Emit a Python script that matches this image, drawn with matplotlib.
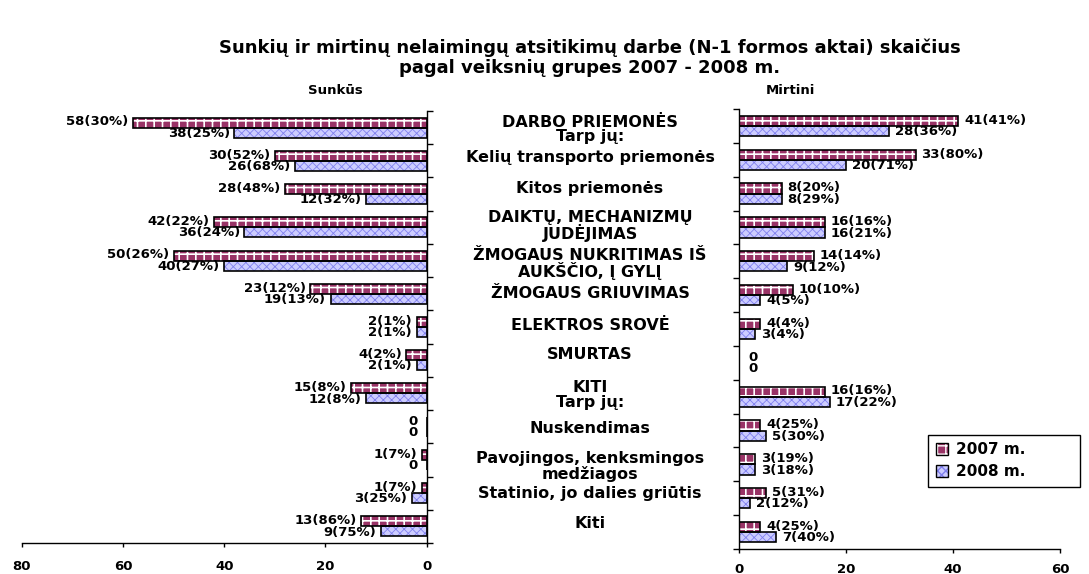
import numpy as np
import matplotlib
matplotlib.use("Agg")
import matplotlib.pyplot as plt
import matplotlib.transforms as mtransforms
from matplotlib.patches import Patch
from matplotlib.legend_handler import HandlerTuple

plt.rcParams['font.family'] = ['DejaVu Sans']
plt.rcParams['font.weight'] = 'bold'

# Data
categories = [
    "DARBO PRIEMONĖS\nTarp jų:",
    "Kelių transporto priemonės",
    "Kitos priemonės",
    "DAIKTŲ, MECHANIZMŲ\nJUDĖJIMAS",
    "ŽMOGAUS NUKRITIMAS IŠ\nAUKŠČIO, Į GYLĮ",
    "ŽMOGAUS GRIUVIMAS",
    "ELEKTROS SROVĖ",
    "SMURTAS",
    "KITI\nTarp jų:",
    "Nuskendimas",
    "Pavojingos, kenksmingos\nmedžiagos",
    "Statinio, jo dalies griūtis",
    "Kiti",
]
sunkus_2007 = [58, 30, 28, 42, 50, 23, 2, 4, 15, 0, 1, 1, 13]
sunkus_2007_pct = [30, 52, 48, 22, 26, 12, 1, 2, 8, None, 7, 7, 86]
sunkus_2008 = [38, 26, 12, 36, 40, 19, 2, 2, 12, 0, 0, 3, 9]
sunkus_2008_pct = [25, 68, 32, 24, 27, 13, 1, 1, 8, None, None, 25, 75]
mirtini_2007 = [41, 33, 8, 16, 14, 10, 4, 0, 16, 4, 3, 5, 4]
mirtini_2007_pct = [41, 80, 20, 16, 14, 10, 4, None, 16, 25, 19, 31, 25]
mirtini_2008 = [28, 20, 8, 16, 9, 4, 3, 0, 17, 5, 3, 2, 7]
mirtini_2008_pct = [36, 71, 29, 21, 12, 5, 4, None, 22, 30, 18, 12, 40]

# small vertical nudges of the middle labels (category units)
label_nudge = [0.05, -0.1, -0.18, -0.05, 0.1, 0, -0.05, -0.18, 0.05, 0.05, 0.2, 0, -0.1]

c07 = '#993366'
c08 = '#ccccff'
hatch08 = '#8080ee'

fig = plt.figure(figsize=(10.89, 5.74), dpi=100)
W, H = 1089, 574
axL = fig.add_axes([21.7 / W, (H - 543) / H, 405 / W, 432 / H])
axR = fig.add_axes([739 / W, (H - 549) / H, 321 / W, 440 / H])

y = np.arange(len(categories))
bh = 0.3


def label(v, p):
    return "0" if p is None else f"{v}({p}%)"


def set_hlw(patches, lw):
    for p in patches:
        if hasattr(p, 'set_hatch_linewidth'):
            p.set_hatch_linewidth(lw)


def draw(ax, v07, p07, v08, p08, side):
    b07 = ax.barh(y - bh / 2, v07, height=bh, facecolor=c07, edgecolor='white',
                  hatch='++', linewidth=0)
    set_hlw(b07, 1.2)
    b08 = ax.barh(y + bh / 2, v08, height=bh, facecolor=c08, edgecolor=hatch08,
                  hatch='xxxx', linewidth=0)
    set_hlw(b08, 0.6)
    for vals, off in [(v07, -bh / 2), (v08, bh / 2)]:
        ax.barh(y + off, vals, height=bh, fill=False, edgecolor='black', linewidth=1.2)
    gap = 0.9 if side == 'left' else 1.1
    ha = 'right' if side == 'left' else 'left'
    for i in range(len(y)):
        for v, p, off in [(v07[i], p07[i], -bh / 2 - 0.02), (v08[i], p08[i], bh / 2 + 0.02)]:
            g = 1.8 if p is None else gap
            ax.text(v + g, i + off, label(v, p), ha=ha, va='center', fontsize=9.5,
                    fontweight='bold')


draw(axL, sunkus_2007, sunkus_2007_pct, sunkus_2008, sunkus_2008_pct, 'left')
draw(axR, mirtini_2007, mirtini_2007_pct, mirtini_2008, mirtini_2008_pct, 'right')

# Left axis (reversed)
axL.set_xlim(80, 0)
axL.set_ylim(len(y) - 0.5, -0.5)
axL.spines['left'].set_visible(False)
axL.spines['top'].set_visible(False)
axL.yaxis.tick_right()
axL.set_yticks(np.arange(-0.5, len(y), 1.0))
axL.set_yticklabels([])
axL.set_xticks([80, 60, 40, 20, 0])

# Right axis
axR.set_xlim(0, 60)
axR.set_ylim(len(y) - 0.5, -0.5)
axR.spines['right'].set_visible(False)
axR.spines['top'].set_visible(False)
axR.set_yticks(np.arange(-0.5, len(y), 1.0))
axR.set_yticklabels([])
axR.set_xticks([0, 20, 40, 60])

for ax, pad in ((axL, 9.5), (axR, 7)):
    ax.tick_params(axis='x', labelsize=9.5, length=3, width=1, pad=pad)
    ax.tick_params(axis='y', length=4, width=1)
    for lab in ax.get_xticklabels():
        lab.set_fontweight('bold')
    for s in ax.spines.values():
        s.set_linewidth(1)

# Category labels in the middle
trans = mtransforms.blended_transform_factory(fig.transFigure, axL.transData)
for i, cat in enumerate(categories):
    fig.text(590 / W, i + label_nudge[i], cat, transform=trans, ha='center', va='center',
             fontsize=11.5, fontweight='bold', linespacing=0.95)

fig.text(590 / W, 1 - 48 / H, "Sunkių ir mirtinų nelaimingų atsitikimų darbe (N-1 formos aktai) skaičius",
         ha='center', va='center', fontsize=13, fontweight='bold')
fig.text(590 / W, 1 - 68 / H, "pagal veiksnių grupes 2007 - 2008 m.",
         ha='center', va='center', fontsize=13, fontweight='bold')
fig.text(335 / W, 1 - 91 / H, "Sunkūs", ha='center', va='center', fontsize=9.5, fontweight='bold')
fig.text(790 / W, 1 - 91 / H, "Mirtini", ha='center', va='center', fontsize=9.5, fontweight='bold')

# Legend
h07 = Patch(facecolor=c07, edgecolor='white', hatch='++', linewidth=0)
set_hlw([h07], 1.2)
h08 = Patch(facecolor=c08, edgecolor=hatch08, hatch='xxxx', linewidth=0)
set_hlw([h08], 0.6)
o07 = Patch(fill=False, edgecolor='black', linewidth=1)
o08 = Patch(fill=False, edgecolor='black', linewidth=1)
leg = fig.legend([(h07, o07), (h08, o08)], ["2007 m.", "2008 m."],
                 handler_map={tuple: HandlerTuple(ndivide=1, pad=0)},
                 loc='lower left', mode='expand',
                 bbox_to_anchor=(928 / W, (H - 487) / H, 152 / W, 49 / H),
                 frameon=True, fancybox=False, framealpha=1, edgecolor='black',
                 prop={'size': 11, 'weight': 'bold'}, handlelength=0.8, handleheight=0.8,
                 borderpad=0.5, labelspacing=0.45, handletextpad=0.5, borderaxespad=0)
leg.get_frame().set_linewidth(1)

fig.savefig("out.png", dpi=100)
